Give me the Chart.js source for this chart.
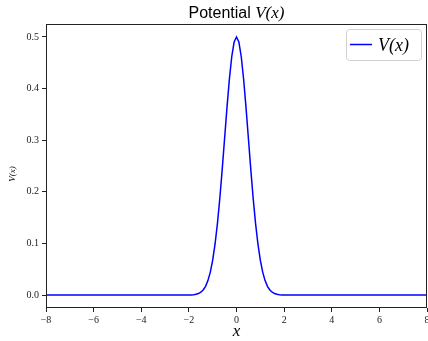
<!DOCTYPE html>
<html>
<head>
<meta charset="utf-8">
<script src="https://cdn.jsdelivr.net/npm/chart.js@4/dist/chart.umd.min.js"></script>
<style>
  html, body { margin: 0; padding: 0; background: #fff; }
  #wrap { width: 428px; height: 341px; }
</style>
</head>
<body>
<div id="wrap"><canvas id="c" width="428" height="341"></canvas></div>
<script>
/* ===== DATA ===== */
const xs = [-8, -2.2, -2.1, -2.0, -1.9, -1.8, -1.7, -1.6, -1.5, -1.4, -1.3, -1.2, -1.1, -1.0,
  -0.9, -0.8, -0.7, -0.6, -0.5, -0.4, -0.3, -0.2, -0.1, 0,
  0.1, 0.2, 0.3, 0.4, 0.5, 0.6, 0.7, 0.8, 0.9, 1.0, 1.1, 1.2, 1.3, 1.4, 1.5,
  1.6, 1.7, 1.8, 1.9, 2.0, 2.1, 2.2, 8];
const vs = [0, 0.0000, 0.0001, 0.0002, 0.0004, 0.0008, 0.0015, 0.0030, 0.0056, 0.0099, 0.0170, 0.0281, 0.0445, 0.0677,
  0.0990, 0.1390, 0.1876, 0.2434, 0.3033, 0.3631, 0.4176, 0.4616, 0.4901, 0.5,
  0.4901, 0.4616, 0.4176, 0.3631, 0.3033, 0.2434, 0.1876, 0.1390, 0.0990, 0.0677, 0.0445, 0.0281, 0.0170, 0.0099, 0.0056,
  0.0030, 0.0015, 0.0008, 0.0004, 0.0002, 0.0001, 0.0000, 0];
const xTicks = [-8, -6, -4, -2, 0, 2, 4, 6, 8];
const yTicks = [0.0, 0.1, 0.2, 0.3, 0.4, 0.5];

const SERIF = '"Liberation Serif", "DejaVu Serif", serif';
const SANS = '"Liberation Sans", "DejaVu Sans", sans-serif';
const LINE_COLOR = '#0000ff';

// Plugin: moldura, título, rótulos dos eixos e legenda
const decorations = {
  id: 'decorations',
  afterDraw(chart) {
    const { ctx, chartArea: a } = chart;
    ctx.save();
    // spines
    ctx.strokeStyle = '#222';
    ctx.lineWidth = 1;
    ctx.strokeRect(a.left + 0.5, a.top + 0.5, a.right - a.left - 1, a.bottom - a.top - 1);

    // title: "Potential " sans + V(x) math
    ctx.fillStyle = '#000';
    ctx.textBaseline = 'alphabetic';
    const cx = (a.left + a.right) / 2;
    const part1 = 'Potential ';
    ctx.font = '16px ' + SANS;
    const w1 = ctx.measureText(part1).width;
    ctx.font = 'italic 17px ' + SERIF;
    const w2 = ctx.measureText('V(x)').width;
    let tx = cx - (w1 + w2) / 2;
    ctx.textAlign = 'left';
    ctx.font = '16px ' + SANS;
    ctx.fillText(part1, tx, 18);
    ctx.font = 'italic 17px ' + SERIF;
    ctx.fillText('V(x)', tx + w1, 18);

    // x label
    ctx.textAlign = 'center';
    ctx.font = 'italic 17px ' + SERIF;
    ctx.fillText('x', cx, 336);

    // y label
    ctx.save();
    ctx.translate(15, (a.top + a.bottom) / 2 + 8);
    ctx.rotate(-Math.PI / 2);
    ctx.font = 'italic 9px ' + SERIF;
    ctx.textAlign = 'center';
    ctx.fillText('V(x)', 0, 0);
    ctx.restore();

    // legend
    const lx = 346.5, ly = 29.5, lw = 75, lh = 31;
    ctx.strokeStyle = '#d0d0d0';
    ctx.fillStyle = 'rgba(255,255,255,0.8)';
    ctx.beginPath();
    ctx.roundRect(lx, ly, lw, lh, 3);
    ctx.fill();
    ctx.stroke();
    ctx.strokeStyle = LINE_COLOR;
    ctx.lineWidth = 1.5;
    ctx.beginPath();
    ctx.moveTo(350, 44.5);
    ctx.lineTo(372, 44.5);
    ctx.stroke();
    ctx.fillStyle = '#000';
    ctx.textAlign = 'left';
    ctx.font = 'italic 18px ' + SERIF;
    ctx.fillText('V(x)', 378, 51);
    ctx.restore();
  }
};

const fmtMinus = v => (v < 0 ? '\u2212' + Math.abs(v) : String(v));

new Chart(document.getElementById('c'), {
  type: 'line',
  data: {
    datasets: [{
      data: xs.map((x, i) => ({ x, y: vs[i] })),
      borderColor: LINE_COLOR,
      borderWidth: 1.5,
      pointRadius: 0,
      tension: 0,
      fill: false
    }]
  },
  options: {
    responsive: false,
    animation: false,
    devicePixelRatio: 1,
    layout: { padding: { top: 24, right: 1, left: 0, bottom: 0 } },
    plugins: { legend: { display: false }, tooltip: { enabled: false } },
    scales: {
      x: {
        type: 'linear', min: -8, max: 8,
        afterBuildTicks: s => { s.ticks = xTicks.map(v => ({ value: v })); },
        afterFit: s => { s.height = 33; s.paddingRight = 0; s.paddingLeft = 0; },
        grid: { drawOnChartArea: false, drawTicks: true, tickLength: 4, color: '#222' },
        border: { display: false },
        ticks: { callback: v => fmtMinus(v), font: { family: SERIF, size: 10 }, color: '#222', padding: 2, maxRotation: 0 }
      },
      y: {
        type: 'linear', min: -0.025, max: 0.525,
        afterBuildTicks: s => { s.ticks = yTicks.map(v => ({ value: v })); },
        afterFit: s => { s.width = 46; s.paddingTop = 0; s.paddingBottom = 0; },
        grid: { drawOnChartArea: false, drawTicks: true, tickLength: 4, color: '#222' },
        border: { display: false },
        ticks: { callback: v => Number(v).toFixed(1), font: { family: SERIF, size: 10 }, color: '#222', padding: 3 }
      }
    }
  },
  plugins: [decorations]
});
</script>
</body>
</html>
